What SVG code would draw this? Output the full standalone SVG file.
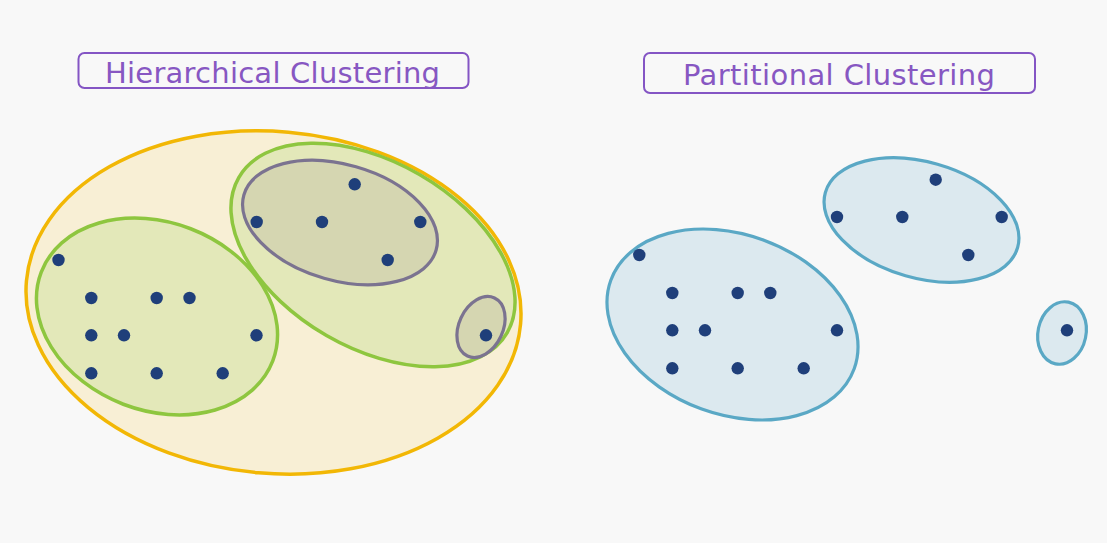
<svg xmlns="http://www.w3.org/2000/svg" width="1107" height="543" viewBox="0 0 1107 543">
<style>
.bg{fill:#f8f8f8}
.title{fill:none;stroke:#8455c4;stroke-width:2}
.tt{font-family:"DejaVu Sans",sans-serif;font-size:29px;fill:#8757c2}
.yel{fill:#f8efd5;stroke:#f2b705;stroke-width:3.5}
.grn{fill:#e3e8b9;stroke:#8ec63f;stroke-width:3.5}
.gry{fill:#d5d6b1;stroke:#7b7390;stroke-width:3.2}
.blu{fill:#dce9ef;stroke:#5aa8c5;stroke-width:3.2}
.dot{fill:#1f3f7a}
</style>
<rect class="bg" x="0" y="0" width="1107" height="543"/>
<g id="title-hierarchical">
<rect class="title" x="78.5" y="53" width="390" height="35" rx="6"/>
<text class="tt" x="105" y="83" textLength="335" lengthAdjust="spacing">Hierarchical Clustering</text>
</g>
<g id="title-partitional">
<rect class="title" x="644" y="53" width="391" height="40" rx="6"/>
<text class="tt" x="683" y="85" textLength="312" lengthAdjust="spacing">Partitional Clustering</text>
</g>
<g id="hierarchical">
<ellipse id="h-outer" class="yel" cx="273.5" cy="302.5" rx="248" ry="171" transform="rotate(5 273.5 302.5)"/>
<ellipse id="h-left" class="grn" cx="157" cy="316.5" rx="124" ry="94" transform="rotate(21 157 316.5)"/>
<ellipse id="h-right" class="grn" cx="373" cy="255" rx="155" ry="93" transform="rotate(30 373 255)"/>
<ellipse id="h-gray-big" class="gry" cx="340" cy="222.5" rx="100" ry="58" transform="rotate(16 340 222.5)"/>
<ellipse id="h-gray-small" class="gry" cx="481" cy="327" rx="22" ry="32" transform="rotate(25 481 327)"/>
<g id="h-dots">
<circle class="dot" cx="58.5" cy="260" r="6.2"/>
<circle class="dot" cx="91.3" cy="298" r="6.2"/>
<circle class="dot" cx="156.7" cy="298" r="6.2"/>
<circle class="dot" cx="189.5" cy="298" r="6.2"/>
<circle class="dot" cx="91.3" cy="335.3" r="6.2"/>
<circle class="dot" cx="124" cy="335.3" r="6.2"/>
<circle class="dot" cx="256.5" cy="335.3" r="6.2"/>
<circle class="dot" cx="91.3" cy="373.3" r="6.2"/>
<circle class="dot" cx="156.7" cy="373.3" r="6.2"/>
<circle class="dot" cx="222.7" cy="373.3" r="6.2"/>
<circle class="dot" cx="354.7" cy="184.3" r="6.2"/>
<circle class="dot" cx="256.7" cy="222" r="6.2"/>
<circle class="dot" cx="322" cy="222" r="6.2"/>
<circle class="dot" cx="420.3" cy="222" r="6.2"/>
<circle class="dot" cx="387.7" cy="260" r="6.2"/>
<circle class="dot" cx="486" cy="335.3" r="6.2"/>
</g>
</g>
<g id="partitional">
<ellipse id="p-big" class="blu" cx="732.5" cy="324.5" rx="129.5" ry="90" transform="rotate(20 732.5 324.5)"/>
<ellipse id="p-top" class="blu" cx="921.5" cy="220" rx="100" ry="58" transform="rotate(16 921.5 220)"/>
<ellipse id="p-small" class="blu" cx="1062" cy="333" rx="24" ry="31.5" transform="rotate(12 1062 333)"/>
<g id="p-dots">
<circle class="dot" cx="639.3" cy="255" r="6.2"/>
<circle class="dot" cx="672.3" cy="293" r="6.2"/>
<circle class="dot" cx="737.7" cy="293" r="6.2"/>
<circle class="dot" cx="770.3" cy="293" r="6.2"/>
<circle class="dot" cx="672.3" cy="330.3" r="6.2"/>
<circle class="dot" cx="705" cy="330.3" r="6.2"/>
<circle class="dot" cx="837" cy="330.3" r="6.2"/>
<circle class="dot" cx="672.3" cy="368.3" r="6.2"/>
<circle class="dot" cx="737.7" cy="368.3" r="6.2"/>
<circle class="dot" cx="803.7" cy="368.3" r="6.2"/>
<circle class="dot" cx="935.7" cy="179.7" r="6.2"/>
<circle class="dot" cx="837" cy="217" r="6.2"/>
<circle class="dot" cx="902.3" cy="217" r="6.2"/>
<circle class="dot" cx="1001.7" cy="217" r="6.2"/>
<circle class="dot" cx="968.3" cy="255" r="6.2"/>
<circle class="dot" cx="1067" cy="330.3" r="6.2"/>
</g>
</g>
</svg>
